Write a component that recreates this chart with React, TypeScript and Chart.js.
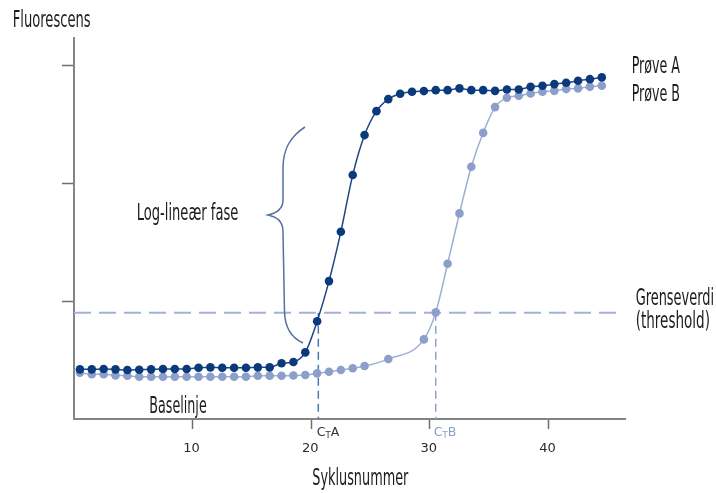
import React, { useEffect, useRef } from "react";
import { Chart, registerables } from "chart.js";

Chart.register(...registerables);

// PCR cycles (points are drawn in the middle of each cycle)
const cycles = [
  1, 2, 3, 4, 5, 6, 7, 8, 9, 10, 11, 12, 13, 14, 15, 16, 17, 18, 19, 20, 21, 22,
  23, 24, 25, 26, 27, 28, 29, 30, 31, 32, 33, 34, 35, 36, 37, 38, 39, 40, 41,
  42, 43, 44, 45,
];

// Prøve A fluorescence
const proveA = [
  0.421, 0.421, 0.424, 0.421, 0.415, 0.418, 0.421, 0.424, 0.424, 0.424, 0.435,
  0.438, 0.435, 0.435, 0.435, 0.438, 0.438, 0.472, 0.483, 0.565, 0.828, 1.169,
  1.587, 2.068, 2.407, 2.61, 2.712, 2.758, 2.774, 2.78, 2.788, 2.788, 2.803,
  2.788, 2.788, 2.782, 2.794, 2.794, 2.816, 2.825, 2.839, 2.85, 2.867, 2.881,
  2.896,
];

// Prøve B fluorescence (null = no marker drawn in the picture)
const proveB: (number | null)[] = [
  0.392, 0.379, 0.379, 0.37, 0.367, 0.358, 0.358, 0.358, 0.358, 0.358, 0.358,
  0.358, 0.358, 0.358, 0.358, 0.367, 0.367, 0.367, 0.369, 0.373, 0.387, 0.401,
  0.415, 0.43, 0.449, null, 0.508, null, null, 0.675, 0.904, 1.316, 1.743, 2.138,
  2.426, 2.644, 2.723, 2.74, 2.76, 2.774, 2.782, 2.797, 2.803, 2.816, 2.825,
];

const xTickValues = [10, 20, 30, 40];
const yTickValues = [1, 2, 3];
const thresholdValue = 0.9;
const thresholdEnd = 45.8;
const ctA = 20.6;
const ctB = 30.5;

const NARROW =
  "'Liberation Sans Narrow', 'DejaVu Sans Condensed', 'Liberation Sans', sans-serif";
const GEO = "'DejaVu Sans', sans-serif";
const TEXT = "#1c1c1c";

function fitText(
  ctx: CanvasRenderingContext2D,
  text: string,
  left: number,
  right: number,
  baseline: number,
  size: number,
  color: string
) {
  ctx.save();
  ctx.font = `${size}px ${NARROW}`;
  ctx.fillStyle = color;
  ctx.textBaseline = "alphabetic";
  ctx.textAlign = "left";
  const w = ctx.measureText(text).width;
  const s = (right - left) / w;
  ctx.translate(left, baseline);
  ctx.scale(s, 1);
  ctx.fillText(text, 0, 0);
  ctx.restore();
}

function ctLabel(
  ctx: CanvasRenderingContext2D,
  x: number,
  baseline: number,
  letter: string,
  color: string
) {
  ctx.save();
  ctx.fillStyle = color;
  ctx.textBaseline = "alphabetic";
  ctx.textAlign = "left";
  ctx.font = `12.5px ${GEO}`;
  ctx.fillText("C", x, baseline);
  const cw = ctx.measureText("C").width;
  ctx.font = `8.5px ${GEO}`;
  ctx.fillText("T", x + cw, baseline + 1.5);
  const tw = ctx.measureText("T").width;
  ctx.font = `12.5px ${GEO}`;
  ctx.fillText(letter, x + cw + tw, baseline);
  ctx.restore();
}

const annotations = {
  id: "annotations",
  afterDraw(chart: any) {
    const ctx: CanvasRenderingContext2D = chart.ctx;
    const xs = chart.scales.x;

    // curly brace marking the log-linear phase
    ctx.save();
    ctx.strokeStyle = "#56709c";
    ctx.lineWidth = 1.5;
    ctx.beginPath();
    ctx.moveTo(305, 127);
    ctx.bezierCurveTo(291, 136, 283, 148, 283, 168);
    ctx.lineTo(283, 200);
    ctx.bezierCurveTo(283, 209, 277, 213, 268, 215);
    ctx.bezierCurveTo(277, 217, 283, 221, 283, 232);
    ctx.lineTo(284.5, 312);
    ctx.bezierCurveTo(285, 328, 292, 338, 303, 343);
    ctx.stroke();
    ctx.restore();

    fitText(ctx, "Fluorescens", 12.7, 90.7, 27.3, 23, TEXT);
    fitText(ctx, "Prøve A", 631.7, 680, 73.3, 23, TEXT);
    fitText(ctx, "Prøve B", 631.7, 680, 101, 23, TEXT);
    fitText(ctx, "Grenseverdi", 635.7, 714, 305, 23, TEXT);
    fitText(ctx, "(threshold)", 635.7, 710, 328.3, 23, TEXT);
    fitText(ctx, "Log-lineær fase", 136.7, 238.3, 220, 23, TEXT);
    fitText(ctx, "Baselinje", 149.3, 206.7, 412.7, 23, TEXT);
    fitText(ctx, "Syklusnummer", 312.3, 408.3, 485, 23, TEXT);

    ctLabel(ctx, xs.getPixelForValue(ctA) - 1.5, 436, "A", "#2e3440");
    ctLabel(ctx, xs.getPixelForValue(ctB) - 2, 436, "B", "#8a9cc8");
  },
};

export default function App() {
  const ref = useRef<HTMLCanvasElement | null>(null);

  useEffect(() => {
    document.body.style.margin = "0";
    const canvas = ref.current;
    if (!canvas) return;

    const seriesA = cycles.map((c, i) => ({ x: c - 0.5, y: proveA[i] }));
    const seriesB = cycles.map((c, i) => ({ x: c - 0.5, y: proveB[i] }));

    const chart = new Chart(canvas, {
      type: "line",
      data: {
        datasets: [
          {
            label: "Prøve A",
            data: seriesA,
            borderColor: "#1f4682",
            backgroundColor: "#0a3a7c",
            pointBackgroundColor: "#0a3a7c",
            pointBorderWidth: 0,
            pointRadius: 4.3,
            borderWidth: 1.5,
            cubicInterpolationMode: "monotone",
            order: 0,
          },
          {
            label: "Prøve B",
            data: seriesB as any,
            borderColor: "#9caed6",
            backgroundColor: "#8c9fcb",
            pointBackgroundColor: "#8c9fcb",
            pointBorderWidth: 0,
            pointRadius: 4.3,
            borderWidth: 1.5,
            spanGaps: true,
            cubicInterpolationMode: "monotone",
            order: 1,
          },
          {
            label: "Grenseverdi",
            data: [
              { x: 0, y: thresholdValue },
              { x: thresholdEnd, y: thresholdValue },
            ],
            borderColor: "#a3b1d3",
            borderWidth: 2,
            borderDash: [17, 8],
            pointRadius: 0,
            order: 2,
          },
          {
            label: "CtA",
            data: [
              { x: ctA, y: thresholdValue },
              { x: ctA, y: 0 },
            ],
            borderColor: "#4a78b5",
            borderWidth: 1.5,
            borderDash: [8, 5],
            pointRadius: 0,
            order: 3,
          },
          {
            label: "CtB",
            data: [
              { x: ctB, y: thresholdValue },
              { x: ctB, y: 0 },
            ],
            borderColor: "#8fa2cc",
            borderWidth: 1.5,
            borderDash: [8, 5],
            pointRadius: 0,
            order: 4,
          },
        ],
      },
      options: {
        animation: false,
        responsive: false,
        devicePixelRatio: 1,
        layout: { padding: { top: 38, right: 90.5, left: 0, bottom: 0 } },
        plugins: {
          legend: { display: false },
          tooltip: { enabled: false },
        },
        scales: {
          x: {
            type: "linear",
            min: 0,
            max: 46.5,
            afterBuildTicks: (s: any) => {
              s.ticks = xTickValues.map((v) => ({ value: v }));
            },
            afterFit: (s: any) => {
              s.height = 74;
            },
            grid: {
              drawOnChartArea: false,
              drawTicks: true,
              tickLength: 10,
              tickColor: "#6e6e6e",
              tickWidth: 1.5,
            },
            border: { display: true, color: "#858585", width: 2 },
            ticks: {
              font: { family: GEO, size: 13 },
              color: "#2a2a2a",
              padding: 12,
              labelOffset: -1,
              maxRotation: 0,
            },
          },
          y: {
            type: "linear",
            min: 0,
            max: 3.23,
            afterBuildTicks: (s: any) => {
              s.ticks = yTickValues.map((v) => ({ value: v }));
            },
            afterFit: (s: any) => {
              s.width = 74;
            },
            grid: {
              drawOnChartArea: false,
              drawTicks: true,
              tickLength: 12,
              tickColor: "#6e6e6e",
              tickWidth: 1.5,
            },
            border: { display: true, color: "#858585", width: 2 },
            ticks: { display: false },
          },
        },
      },
      plugins: [annotations],
    });

    return () => chart.destroy();
  }, []);

  return (
    <div style={{ width: 716, height: 493, background: "#ffffff" }}>
      <canvas ref={ref} width={716} height={493} />
    </div>
  );
}
